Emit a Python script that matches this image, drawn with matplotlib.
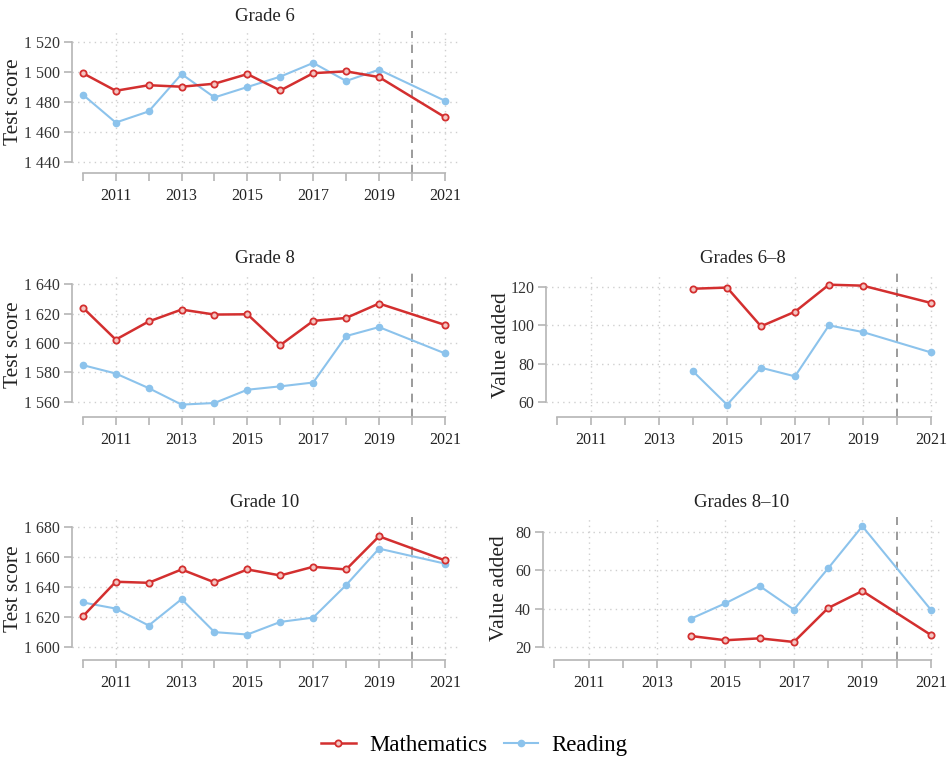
import matplotlib
matplotlib.use("Agg")
import matplotlib.pyplot as plt
from matplotlib.ticker import FuncFormatter

plt.rcParams["font.family"] = ["Liberation Serif", "DejaVu Serif"]

years = [2010, 2011, 2012, 2013, 2014, 2015, 2016, 2017, 2018, 2019, 2021]
years_va = [2014, 2015, 2016, 2017, 2018, 2019, 2021]

g6_math = [1499, 1487.3, 1491, 1490, 1492, 1498.4, 1487.5, 1499, 1500.2, 1496.4, 1469.8]
g6_read = [1484.7, 1466.2, 1473.6, 1498.4, 1482.9, 1489.8, 1496.7, 1505.8, 1493.8, 1501.3, 1480.7]

g8_math = [1624, 1602.3, 1614.6, 1622.7, 1619.3, 1619.5, 1598.6, 1615, 1617, 1626.8, 1612.3]
g8_read = [1585, 1579.3, 1569.4, 1558.2, 1559.3, 1568.3, 1570.6, 1573.2, 1604.7, 1610.8, 1593]

g10_math = [1620.4, 1643.5, 1642.8, 1651.7, 1643.1, 1651.7, 1647.7, 1653.5, 1651.7, 1673.8, 1657.8]
g10_read = [1629.7, 1625.6, 1614.3, 1631.9, 1609.9, 1608.3, 1616.7, 1619.6, 1641.3, 1665.6, 1655.6]

va68_math = [119.1, 119.7, 99.5, 107.1, 121.2, 120.7, 111.7]
va68_read = [76, 58.6, 77.9, 73.4, 100, 96.5, 85.9]

va810_math = [25.7, 23.5, 24.5, 22.6, 40.3, 49.2, 26.3]
va810_read = [34.8, 42.8, 51.8, 39.5, 61, 83, 39.5]

MATH_COL = "#d32f2f"
READ_COL = "#8cc3ec"
AXIS_COL = "#b5b5b5"

W, H = 949, 761


def box(left, top, right, bottom):
    return [left / W, 1 - bottom / H, (right - left) / W, (bottom - top) / H]


def space_thousands(v, pos):
    v = int(round(v))
    if v >= 1000:
        return f"{v // 1000} {v % 1000:03d}"
    return str(v)


def panel(fig, rect, title, ylabel, xs, math, read, yticks, ylim, xlim, label_x):
    ax = fig.add_axes(rect)
    ax.plot(xs, math, color=MATH_COL, lw=1.8, marker="o", ms=4.5,
            mfc="#f4c6c2", mec=MATH_COL, mew=1.3, zorder=4)
    ax.plot(xs, read, color=READ_COL, lw=1.5, marker="o", ms=4.5,
            mfc=READ_COL, mec=READ_COL, zorder=3)
    ax.axvline(2020, color="#8a8a8a", lw=1.2, ls=(0, (5, 4)), zorder=2)

    ax.set_xlim(*xlim)
    ax.set_ylim(*ylim)
    ax.set_xticks([2011, 2013, 2015, 2017, 2019, 2021])
    ax.set_xticks([2010, 2012, 2014, 2016, 2018, 2020], minor=True)
    ax.set_yticks(yticks)
    ax.yaxis.set_major_formatter(FuncFormatter(space_thousands))

    ax.grid(True, which="major", color="#cfcfcf", ls=(0, (1, 3)), lw=1.0)
    for s in ("top", "right"):
        ax.spines[s].set_visible(False)
    for s in ("left", "bottom"):
        ax.spines[s].set_color(AXIS_COL)
        ax.spines[s].set_linewidth(1.2)
    ax.spines["left"].set_bounds(yticks[0], yticks[-1])
    ax.spines["bottom"].set_bounds(2010, 2021)
    ax.tick_params(which="both", axis="x", direction="out", length=6,
                   color=AXIS_COL, width=1.2, labelsize=11.5, pad=5,
                   labelcolor="#222222")
    ax.tick_params(axis="y", direction="out", length=6, color=AXIS_COL,
                   width=1.2, labelsize=11.5, labelcolor="#333333", pad=2.5)
    ax.set_title(title, fontsize=13.5, pad=7, color="#222222")
    ax.set_ylabel(ylabel, fontsize=15.5, color="#222222")
    ax.yaxis.set_label_coords(label_x, 0.5)
    return ax


fig = plt.figure(figsize=(W / 100, H / 100), dpi=100)

panel(fig, box(72, 31, 458, 173), "Grade 6", "Test score", years,
      g6_math, g6_read, [1440, 1460, 1480, 1500, 1520], (1432.7, 1527),
      (2009.67, 2021.4), -0.128)
ax8 = panel(fig, box(72, 273, 458, 417), "Grade 8", "Test score", years,
            g8_math, g8_read, [1560, 1580, 1600, 1620, 1640], (1549.8, 1647.5),
            (2009.67, 2021.4), -0.128)
panel(fig, box(72, 517, 458, 660), "Grade 10", "Test score", years,
      g10_math, g10_read, [1600, 1620, 1640, 1660, 1680], (1591.3, 1686.7),
      (2009.67, 2021.4), -0.128)
panel(fig, box(546, 273, 940, 417), "Grades 6\u20138", "Value added", years_va,
      va68_math, va68_read, [60, 80, 100, 120], (52.2, 127.3),
      (2009.67, 2021.27), -0.089)
panel(fig, box(543, 517, 940, 660), "Grades 8\u201310", "Value added", years_va,
      va810_math, va810_read, [20, 40, 60, 80], (13.2, 87.8),
      (2009.67, 2021.27), -0.086)

math_line = ax8.lines[0]
read_line = ax8.lines[1]
fig.legend([math_line, read_line], ["Mathematics", "Reading"],
           loc="center", bbox_to_anchor=(0.5, 1 - 745 / H), ncol=2,
           frameon=False, fontsize=16.5, handlelength=1.5,
           columnspacing=0.7, handletextpad=0.6)

fig.savefig("out.png", dpi=100, facecolor="white")
